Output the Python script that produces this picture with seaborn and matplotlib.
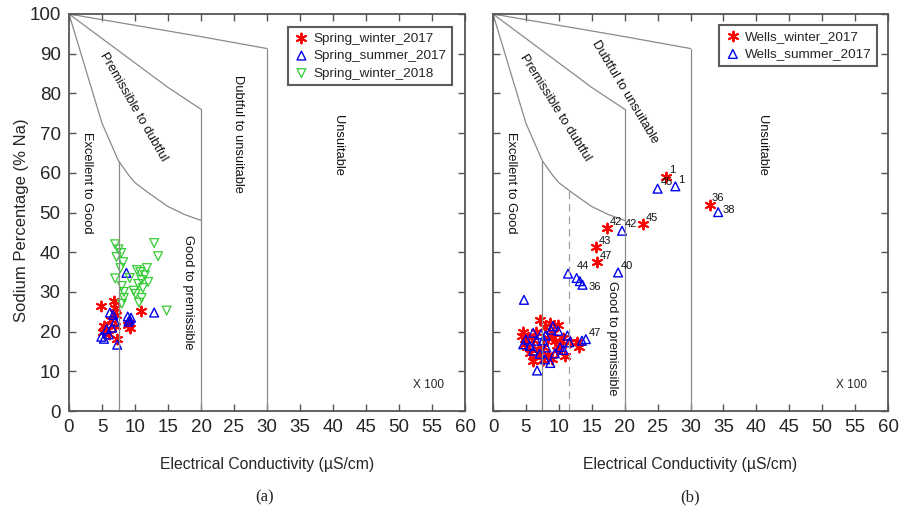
import numpy as np
import pandas as pd
import matplotlib
matplotlib.use("Agg")
import matplotlib.pyplot as plt
from matplotlib.markers import MarkerStyle
import seaborn as sns

# ---------------- data ----------------
# Panel (a) springs
spring_w17_x = [4.9, 6.8, 7.0, 10.9, 5.3, 5.2, 6.0, 7.0, 7.3, 9.1, 9.2, 8.9, 5.6, 7.1, 6.3]
spring_w17_y = [26.5, 27.6, 26.0, 25.1, 21.5, 20.0, 19.5, 21.5, 18.2, 22.2, 21.0, 21.7, 20.7, 24.3, 22.8]

spring_s17_x = [8.7, 12.9, 6.2, 6.7, 8.9, 9.2, 9.0, 9.4, 4.9, 6.0, 5.7, 7.3, 7.0, 6.5, 5.3]
spring_s17_y = [34.8, 24.8, 24.8, 24.2, 23.8, 23.0, 22.5, 23.5, 18.7, 19.3, 20.6, 16.7, 22.5, 21.0, 18.2]

spring_w18_x = [7.0, 7.5, 7.9, 7.2, 8.2, 7.8, 12.9, 13.5, 10.3, 10.8, 11.5, 11.0, 10.5, 11.2,
                10.1, 7.0, 8.0, 8.3, 8.3, 8.0, 9.8, 11.0, 10.6, 14.8, 12.0, 9.2, 11.8]
spring_w18_y = [42.0, 40.7, 39.8, 38.8, 37.5, 36.0, 42.3, 39.0, 35.5, 35.0, 34.2, 33.0, 32.0, 31.0,
                29.5, 33.4, 31.5, 30.0, 28.5, 27.0, 30.3, 28.5, 27.3, 25.3, 32.5, 33.5, 36.0]

# Panel (b) wells
wells_w17_x = [26.3, 33.0, 17.3, 22.8, 15.7, 15.8,
               13.1, 12.7, 7.1, 8.7, 9.9, 4.6, 4.4, 6.1, 7.6, 9.7, 10.4, 11.7, 5.6, 7.6,
               6.1, 10.9, 9.1, 6.6, 8.4, 5.1, 7.1, 8.3, 9.4, 7.9, 5.3, 10.7, 4.8, 8.9, 6.9]
wells_w17_y = [59.0, 51.8, 46.1, 47.1, 41.3, 37.5,
               16.2, 17.5, 22.8, 22.2, 21.7, 19.8, 18.8, 17.9, 16.2, 15.4, 16.7, 17.5, 14.6, 12.9,
               12.5, 13.9, 19.7, 20.0, 18.4, 16.2, 14.4, 14.0, 17.6, 21.2, 18.6, 18.3, 17.0, 13.2, 15.5]
wells_w17_lab = ["1", "36", "42", "45", "43", "47"] + [""] * 29

wells_s17_x = [25.0, 27.7, 34.2, 19.6, 19.0, 12.7, 13.6, 14.1,
               11.4, 13.2, 11.6, 13.5, 4.7, 6.7, 6.1, 7.3, 8.8, 9.1, 9.9, 11.3,
               6.6, 8.1, 7.1, 8.7, 5.6, 10.2, 10.7, 9.4, 7.6, 6.1, 5.0, 8.0, 4.6, 7.9]
wells_s17_y = [56.0, 56.6, 50.1, 45.4, 34.9, 33.5, 31.8, 18.1,
               34.6, 32.7, 17.3, 17.7, 28.0, 10.2, 19.7, 19.3, 20.5, 21.4, 20.2, 19.0,
               17.7, 16.0, 14.4, 12.1, 16.4, 16.1, 15.4, 14.5, 17.8, 15.2, 18.0, 19.0, 16.8, 13.0]
wells_s17_lab = ["45", "1", "38", "42", "40", "44", "36", "47"] + [""] * 26

# Wilcox diagram boundaries (EC x100, %Na)
exc_x = [0, 5, 7.5, 9, 10, 12, 15, 17.5, 20]
exc_y = [100, 72.5, 63, 59.5, 57.5, 55, 51.5, 49.5, 48]
perm_x = [0, 15, 20]
perm_y = [100, 81.5, 76]
doubt_x = [0, 20, 30]
doubt_y = [100, 94.3, 91.3]
vert_x = [7.5, 20, 30]
vert_top = [63, 76, 91.3]

x_ticks = list(range(0, 61, 5))
y_ticks = list(range(0, 101, 10))

# ---------------- style ----------------
sns.set_theme(style="ticks")
plt.rcParams["font.family"] = ["Liberation Sans", "DejaVu Sans"]

W, H = 919, 513
fig = plt.figure(figsize=(W / 100, H / 100), dpi=100)


def rect(l, t, r, b):
    return [l / W, 1 - b / H, (r - l) / W, (b - t) / H]


axA = fig.add_axes(rect(69, 14, 465, 411))
axB = fig.add_axes(rect(493, 14, 888, 411))

LC = "#8a8a8a"
SPC = "#555555"

star = (6, 2, 0)
tri_up = MarkerStyle("^", fillstyle="none")
tri_dn = MarkerStyle("v", fillstyle="none")

tkw = dict(fontsize=9.3, color="#111111", ha="center", va="center")


def base(ax, ylabels=True, dashed=False):
    ax.plot(exc_x, exc_y, color=LC, lw=0.9)
    ax.plot(perm_x, perm_y, color=LC, lw=0.9)
    ax.plot(doubt_x, doubt_y, color=LC, lw=0.9)
    for vx, vt in zip(vert_x, vert_top):
        ax.plot([vx, vx], [0, vt], color=LC, lw=0.9)
    if dashed:
        ax.plot([11.5, 11.5], [0, 55.3], color="#a0a0a0", lw=0.9, dashes=(6, 4))
    ax.set_xlim(0, 60)
    ax.set_ylim(0, 100)
    ax.set_xticks(x_ticks)
    ax.set_yticks(y_ticks)
    ax.tick_params(direction="in", top=True, right=True, length=5, width=1,
                   color=SPC, labelsize=13.5, pad=6)
    if not ylabels:
        ax.tick_params(labelleft=False)
    for s in ax.spines.values():
        s.set_color(SPC)
        s.set_linewidth(1.3)
    ax.set_xlabel("")
    ax.set_ylabel("")
    ax.text(2.7, 57.5, "Excellent to Good", rotation=-90, **tkw)
    ax.text(40.8, 67, "Unsuitable", rotation=-90, **tkw)
    ax.text(54.5, 6.5, "X 100", fontsize=8.5, ha="center", va="center")


legkw = dict(loc="upper right", fontsize=9.7, frameon=True, fancybox=False,
             edgecolor="#333333", handletextpad=0.3, borderpad=0.4,
             labelspacing=0.38, handlelength=1.2, borderaxespad=0)

# ---- panel (a)
base(axA)
sns.scatterplot(x=spring_w17_x, y=spring_w17_y, ax=axA, marker=star, color="red",
                s=50, linewidth=1.4, label="Spring_winter_2017")
sns.scatterplot(x=spring_s17_x, y=spring_s17_y, ax=axA, marker=tri_up, color="#0000ee",
                s=40, linewidth=1.0, label="Spring_summer_2017")
sns.scatterplot(x=spring_w18_x, y=spring_w18_y, ax=axA, marker=tri_dn, color="#33cc33",
                s=40, linewidth=0.9, label="Spring_winter_2018")
axA.text(9.7, 76.5, "Premissible to dubtful", rotation=-60, **tkw)
axA.text(25.6, 69.8, "Dubtful to unsuitable", rotation=-90, **tkw)
axA.text(18.0, 30.0, "Good to premissible", rotation=-90, **tkw)
legA = axA.legend(bbox_to_anchor=(0.967, 0.968), **legkw)
legA.get_frame().set_linewidth(1.5)

# ---- panel (b)
base(axB, ylabels=False, dashed=True)
sns.scatterplot(x=wells_w17_x, y=wells_w17_y, ax=axB, marker=star, color="red",
                s=50, linewidth=1.4, label="Wells_winter_2017")
sns.scatterplot(x=wells_s17_x, y=wells_s17_y, ax=axB, marker=tri_up, color="#0000ee",
                s=40, linewidth=1.0, label="Wells_summer_2017")
offsets = {"44": (0, 5), "36": (4, -5), "38": (3, -2)}
for xs, ys, labs in [(wells_w17_x, wells_w17_y, wells_w17_lab),
                     (wells_s17_x, wells_s17_y, wells_s17_lab)]:
    for x, y, t in zip(xs, ys, labs):
        if t:
            off = (2, 1)
            if xs is wells_s17_x and t in offsets:
                off = offsets[t]
            if xs is wells_w17_x and t == "36":
                off = (1, 2)
            axB.annotate(t, (x, y), xytext=off, textcoords="offset points",
                         fontsize=8, color="#111111", ha="left", va="bottom")
axB.text(9.4, 76.5, "Premissible to dubtful", rotation=-58, **tkw)
axB.text(20.0, 80.4, "Dubtful to unsuitable", rotation=-59, **tkw)
axB.text(18.0, 18.4, "Good to premissible", rotation=-90, **tkw)
legB = axB.legend(bbox_to_anchor=(0.972, 0.972), **legkw)
legB.get_frame().set_linewidth(1.5)

# ---- figure texts
fig.text(22 / W, 1 - 220 / H, "Sodium Percentage (% Na)", rotation=90, fontsize=12,
         ha="center", va="center")
fig.text(267 / W, 1 - 464 / H, "Electrical Conductivity (\u00b5S/cm)", fontsize=11.3,
         ha="center", va="center")
fig.text(690 / W, 1 - 464 / H, "Electrical Conductivity (\u00b5S/cm)", fontsize=11.3,
         ha="center", va="center")
fig.text(265 / W, 1 - 497 / H, "(a)", fontsize=12, family=["Liberation Serif"],
         ha="center", va="center")
fig.text(690 / W, 1 - 497 / H, "(b)", fontsize=12, family=["Liberation Serif"],
         ha="center", va="center")

fig.savefig("out.png", dpi=100, facecolor="white")
